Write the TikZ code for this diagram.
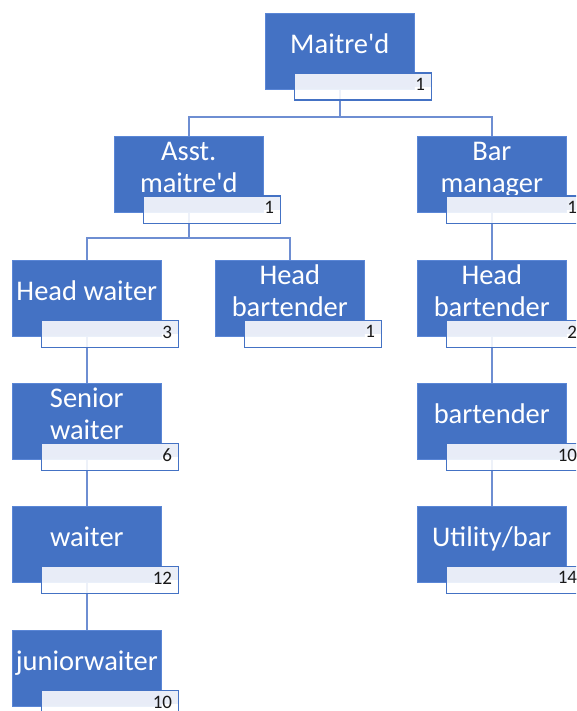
\documentclass[tikz,border=0pt]{standalone}
\usepackage{fontspec}
\setmainfont{Carlito}
\usetikzlibrary{backgrounds}
\definecolor{orgblue}{HTML}{4472C4}
\definecolor{orgedge}{HTML}{5A86D6}
\definecolor{linkblue}{HTML}{6E8ED2}
\definecolor{numtop}{HTML}{E8ECF7}
\tikzset{
  rolebox/.style={draw=orgedge, line width=0.6pt, fill=orgblue,
    minimum width=149pt, minimum height=76pt, anchor=north west, inner sep=0pt},
  rolelabel/.style={text=white, align=center, inner sep=0pt, text depth=7pt,
    font=\fontsize{28.5}{32}\selectfont},
  countbox/.style={draw=orgblue, line width=1.2pt, fill=white, fill opacity=0.88,
    text opacity=1, minimum width=137pt, minimum height=27pt, text width=125pt,
    align=right, anchor=north west, inner sep=0pt, text=black!90,
    font=\fontsize{19}{19}\selectfont,
    path picture={\fill[numtop] (path picture bounding box.north west)
      rectangle (path picture bounding box.east);}},
  link/.style={draw=linkblue, line width=1.6pt},
}
% one position: blue box, its title, and the head-count tab
\newcommand{\orgpost}[5]{%
  \node[rolebox] (#1) at (#2,#3) {};
  \node[rolelabel] (#1-t) at ([yshift=-34.5pt]#1.north) {#4};
  \node[countbox] (#1-n) at ([xshift=28.5pt,yshift=-59.5pt]#1.north west)
    {\raisebox{3.5pt}{#5}};
}
\newcommand{\apos}{\textquotesingle}
\begin{document}
\begin{tikzpicture}[x=1pt,y=-1pt]
\useasboundingbox (0,0) rectangle (576,711);
\clip (0,0) rectangle (576,711);

\orgpost{md}{265}{13}{Maitre\apos d}{1}
\orgpost{asst}{114}{136}{Asst.\\maitre\apos d}{1}
\orgpost{barm}{417}{136}{Bar\\manager}{1}
\orgpost{hw}{12}{260}{Head waiter}{3}
\orgpost{hbm}{215}{260}{Head\\bartender}{1}
\orgpost{hbr}{417}{260}{Head\\bartender}{2}
\orgpost{sw}{12}{383}{Senior\\waiter}{6}
\orgpost{bt}{417}{383}{bartender}{10}
\orgpost{w}{12}{506}{waiter}{12}
\orgpost{ub}{417}{506}{Utility/bar}{14}
\orgpost{jw}{12}{630}{juniorwaiter}{10}

\begin{scope}[on background layer]
  \coordinate (b1) at (340,117);
  \coordinate (b2) at (188,238);
  \draw[link] (md.south) -- (md.south |- b1) -| (asst.north);
  \draw[link] (md.south |- b1) -| (barm.north);
  \draw[link] (asst.south) -- (asst.south |- b2) -| (hw.north);
  \draw[link] (asst.south |- b2) -| (hbm.north);
  \draw[link] (barm.south) -- (hbr.north);
  \draw[link] (hw.south) -- (sw.north);
  \draw[link] (sw.south) -- (w.north);
  \draw[link] (w.south) -- (jw.north);
  \draw[link] (hbr.south) -- (bt.north);
  \draw[link] (bt.south) -- (ub.north);
\end{scope}
\end{tikzpicture}
\end{document}
